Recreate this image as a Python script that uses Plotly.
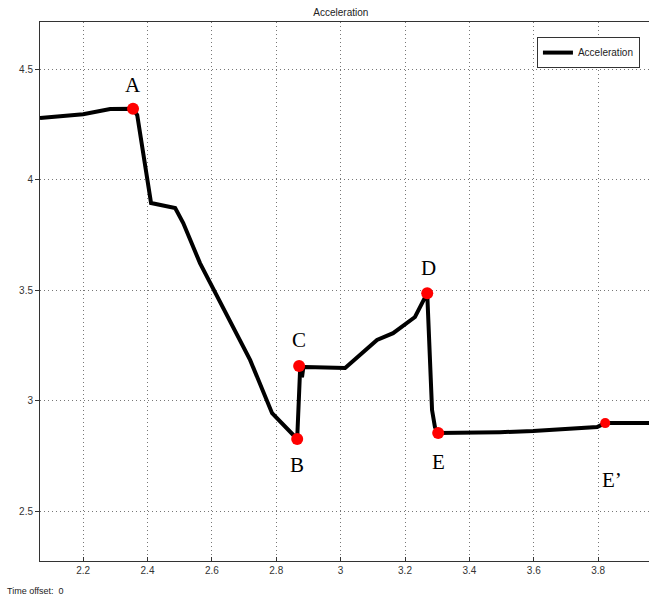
import plotly.graph_objects as go

# Acceleration curve (time, value)
t = [2.066, 2.2, 2.284, 2.340, 2.355, 2.368, 2.399, 2.411, 2.486, 2.511, 2.563,
     2.719, 2.787, 2.865, 2.874, 2.871, 2.880, 2.884, 2.890, 3.014, 3.113, 3.163,
     3.231, 3.269, 3.284, 3.293, 3.303, 3.495, 3.598, 3.797, 3.822, 3.958]
acc = [4.278, 4.296, 4.319, 4.319, 4.320, 4.292, 3.998, 3.894, 3.871, 3.803, 3.622,
       3.183, 2.943, 2.826, 3.138, 3.156, 3.106, 3.150, 3.152, 3.147, 3.274, 3.305,
       3.378, 3.486, 2.957, 2.880, 2.853, 2.857, 2.862, 2.880, 2.898, 2.898]

# Key points
pt_names = ["A", "B", "C", "D", "E", "E\u2019"]
pt_t = [2.355, 2.865, 2.871, 3.269, 3.303, 3.822]
pt_v = [4.320, 2.826, 3.156, 3.486, 2.853, 2.898]
lab_t = [2.355, 2.865, 2.871, 3.272, 3.305, 3.843]
lab_v = [4.428, 2.708, 3.274, 3.600, 2.722, 2.640]
pt_size = [12, 12, 12, 12, 12, 10]

x_ticks = [2.2, 2.4, 2.6, 2.8, 3.0, 3.2, 3.4, 3.6, 3.8]
x_tick_text = ["2.2", "2.4", "2.6", "2.8", "3", "3.2", "3.4", "3.6", "3.8"]
y_ticks = [2.5, 3.0, 3.5, 4.0, 4.5]
y_tick_text = ["2.5", "3", "3.5", "4", "4.5"]

fig = go.Figure()
fig.add_trace(go.Scatter(x=t, y=acc, mode="lines", name="Acceleration",
                         line=dict(color="black", width=4)))
fig.add_trace(go.Scatter(x=pt_t, y=pt_v, mode="markers", showlegend=False,
                         marker=dict(color="#ff0000", size=pt_size, opacity=1,
                                     line=dict(width=0))))

for n, lx, ly in zip(pt_names, lab_t, lab_v):
    fig.add_annotation(x=lx, y=ly, text=n, showarrow=False,
                       font=dict(family="Liberation Serif", size=21, color="black"))

fig.add_annotation(xref="paper", yref="paper", x=-0.0575, y=-0.0557,
                   xanchor="left", yanchor="middle", showarrow=False,
                   text="Time offset:  0",
                   font=dict(family="Liberation Sans", size=9, color="#222"))

axis_common = dict(showgrid=True, gridcolor="#777", griddash="1px,3px", gridwidth=1,
                   showline=True, linecolor="#333", linewidth=1, zeroline=False,
                   ticklen=4, tickcolor="#333",
                   tickfont=dict(family="Liberation Sans", size=10, color="#333"))

fig.update_layout(
    width=649, height=601,
    margin=dict(l=40, r=0, t=22, b=40),
    paper_bgcolor="white", plot_bgcolor="white",
    title=dict(text="Acceleration", x=0.494, xref="paper", xanchor="center",
               y=0.98, yanchor="middle",
               font=dict(family="Liberation Sans", size=10, color="#222")),
    xaxis=dict(range=[2.066, 3.958], tickvals=x_ticks, ticktext=x_tick_text,
               ticks="inside", mirror=True, **axis_common),
    yaxis=dict(range=[2.274, 4.713], tickvals=y_ticks, ticktext=y_tick_text,
               ticks="outside", **axis_common),
    legend=dict(x=0.816, y=0.972, xanchor="left", yanchor="top",
                bordercolor="#333", borderwidth=1, bgcolor="white",
                font=dict(family="Liberation Sans", size=10, color="#222"),
                itemwidth=30),
    showlegend=True,
)

fig.write_html("out.html")
